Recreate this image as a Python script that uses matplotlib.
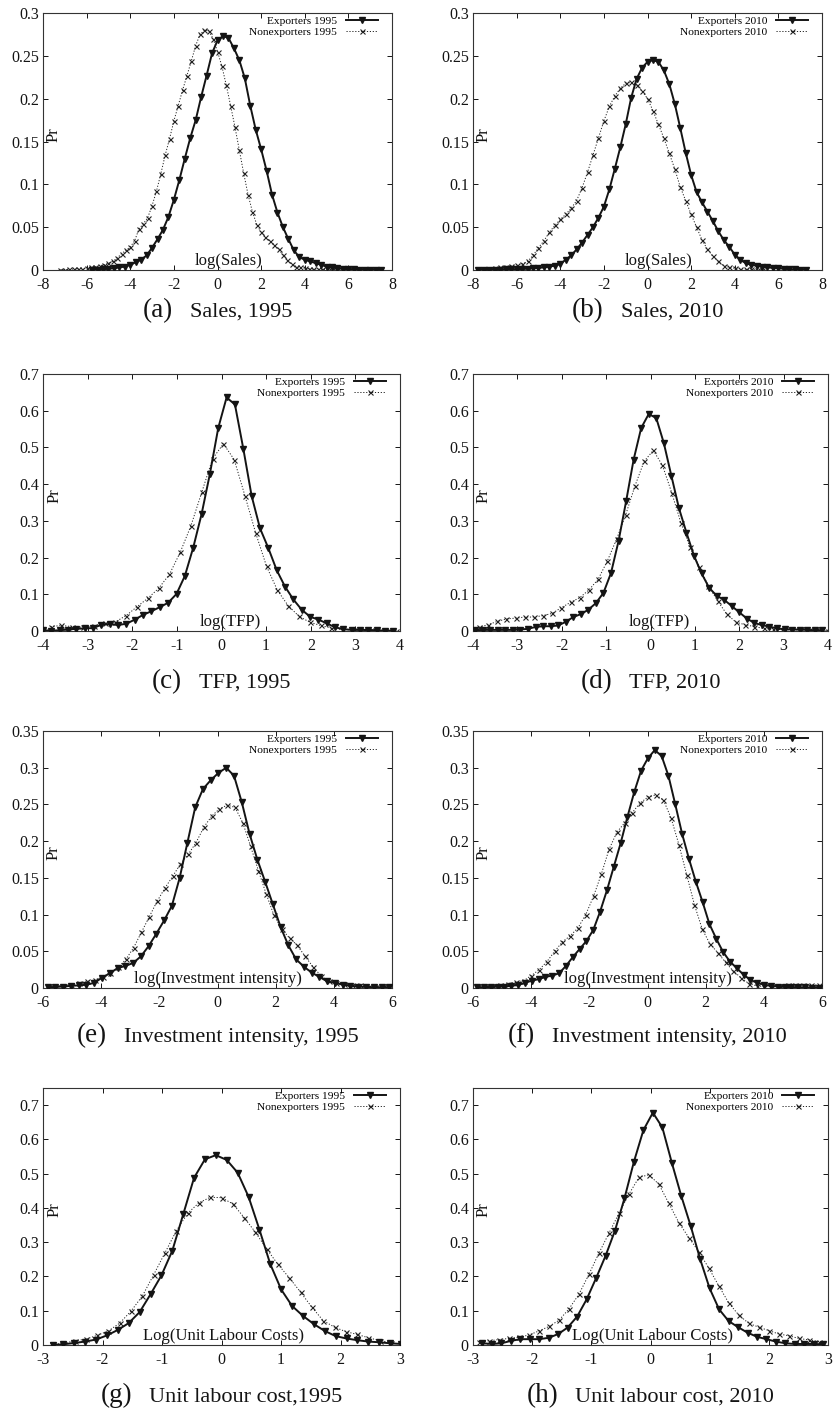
import numpy as np
import matplotlib
matplotlib.use("Agg")
import matplotlib.pyplot as plt

plt.rcParams["font.family"] = ["Liberation Serif", "DejaVu Serif"]
plt.rcParams["axes.unicode_minus"] = False

W, H = 836, 1411

# ---- data: kernel densities (start, step, values) ----
sales95_exp_grid = (-5.75, 0.25)
sales95_exp = [0.0, 0.0005, 0.001, 0.0015, 0.002, 0.003, 0.004, 0.006, 0.009, 0.012,
               0.017, 0.026, 0.036, 0.047, 0.062, 0.082, 0.105, 0.130, 0.154, 0.175,
               0.202, 0.227, 0.253, 0.268, 0.273, 0.271, 0.259, 0.245, 0.224, 0.192,
               0.164, 0.141, 0.116, 0.088, 0.067, 0.050, 0.036, 0.023, 0.015, 0.012,
               0.010, 0.008, 0.006, 0.004, 0.003, 0.002, 0.0015, 0.001, 0.0008, 0.0005,
               0.0003, 0.0002, 0.0001, 0.0]
sales95_non_grid = (-7.2, 0.2)
sales95_non = [0.0005, 0.0005, 0.0007, 0.001, 0.0012, 0.0015, 0.002, 0.003, 0.004, 0.005,
               0.006, 0.008, 0.010, 0.014, 0.019, 0.023, 0.027, 0.034, 0.048, 0.054,
               0.061, 0.075, 0.092, 0.112, 0.134, 0.153, 0.174, 0.192, 0.210, 0.227,
               0.244, 0.262, 0.275, 0.280, 0.279, 0.270, 0.255, 0.238, 0.216, 0.192,
               0.167, 0.140, 0.113, 0.088, 0.068, 0.053, 0.044, 0.038, 0.034, 0.029,
               0.024, 0.018, 0.012, 0.007, 0.004, 0.003, 0.002, 0.0015, 0.001, 0.001,
               0.0008, 0.0006, 0.0005, 0.0004, 0.0003, 0.0002, 0.0002, 0.0001, 0.0001]

sales10_exp_grid = (-7.75, 0.25)
sales10_exp = [0.0, 0.0, 0.0002, 0.0003, 0.0005, 0.0006, 0.0008, 0.001, 0.0012, 0.0015,
               0.002, 0.0025, 0.003, 0.004, 0.005, 0.007, 0.012, 0.017, 0.024, 0.032,
               0.041, 0.050, 0.061, 0.074, 0.094, 0.118, 0.143, 0.170, 0.201, 0.223,
               0.236, 0.243, 0.245, 0.243, 0.233, 0.217, 0.194, 0.166, 0.137, 0.111,
               0.091, 0.079, 0.068, 0.057, 0.045, 0.035, 0.027, 0.018, 0.012, 0.008,
               0.006, 0.005, 0.004, 0.003, 0.0025, 0.002, 0.0015, 0.001, 0.0007, 0.0004,
               0.0002]
sales10_non_grid = (-7.75, 0.25)
sales10_non = [0.0005, 0.001, 0.0015, 0.002, 0.003, 0.004, 0.005, 0.006, 0.007, 0.010,
               0.017, 0.026, 0.034, 0.044, 0.052, 0.059, 0.065, 0.072, 0.081, 0.096,
               0.114, 0.134, 0.154, 0.174, 0.191, 0.203, 0.212, 0.218, 0.219, 0.216,
               0.209, 0.200, 0.186, 0.170, 0.154, 0.136, 0.118, 0.097, 0.081, 0.065,
               0.050, 0.035, 0.024, 0.016, 0.010, 0.005, 0.003, 0.002, 0.0015, 0.001,
               0.0008, 0.0005, 0.0003]

tfp95_exp_grid = (-4.0, 0.187)
tfp95_exp = [0.002, 0.001, 0.002, 0.004, 0.006, 0.007, 0.008, 0.017, 0.019, 0.016,
             0.020, 0.031, 0.044, 0.054, 0.065, 0.077, 0.101, 0.150, 0.227, 0.318,
             0.428, 0.553, 0.636, 0.617, 0.497, 0.368, 0.280, 0.226, 0.166, 0.121,
             0.086, 0.058, 0.039, 0.031, 0.021, 0.010, 0.005, 0.003, 0.003, 0.003,
             0.002, 0.001, 0.001]
tfp95_non_grid = (-3.83, 0.242)
tfp95_non = [0.012, 0.015, 0.012, 0.010, 0.014, 0.021, 0.025, 0.042, 0.066, 0.089,
             0.116, 0.154, 0.214, 0.287, 0.378, 0.469, 0.510, 0.467, 0.368, 0.266,
             0.176, 0.111, 0.069, 0.040, 0.024, 0.015, 0.008, 0.004, 0.003, 0.002,
             0.002, 0.001, 0.001]

tfp10_exp_grid = (-3.95, 0.17)
tfp10_exp = [0.002, 0.003, 0.003, 0.003, 0.003, 0.003, 0.004, 0.006, 0.011, 0.013,
             0.013, 0.015, 0.025, 0.038, 0.046, 0.058, 0.076, 0.104, 0.158, 0.245,
             0.353, 0.467, 0.553, 0.591, 0.580, 0.512, 0.423, 0.335, 0.268, 0.205,
             0.157, 0.118, 0.096, 0.085, 0.068, 0.051, 0.034, 0.022, 0.016, 0.012,
             0.007, 0.005, 0.004, 0.004, 0.003, 0.002, 0.002]
tfp10_non_grid = (-3.87, 0.207)
tfp10_non = [0.010, 0.017, 0.026, 0.033, 0.035, 0.038, 0.038, 0.042, 0.048, 0.064,
             0.078, 0.091, 0.112, 0.141, 0.191, 0.250, 0.317, 0.395, 0.462, 0.492,
             0.451, 0.377, 0.295, 0.228, 0.175, 0.123, 0.082, 0.046, 0.024, 0.017,
             0.012, 0.007, 0.005, 0.004, 0.003, 0.003, 0.002, 0.002, 0.001]

inv95_exp_grid = (-5.84, 0.267)
inv95_exp = [0.001, 0.0015, 0.002, 0.003, 0.0035, 0.0045, 0.007, 0.014, 0.020, 0.027,
             0.030, 0.034, 0.043, 0.057, 0.074, 0.092, 0.112, 0.150, 0.198, 0.246,
             0.271, 0.283, 0.293, 0.300, 0.289, 0.253, 0.210, 0.175, 0.145, 0.114,
             0.083, 0.058, 0.039, 0.029, 0.021, 0.015, 0.009, 0.007, 0.0045, 0.003,
             0.002, 0.0015, 0.001, 0.001, 0.001]
inv95_non_grid = (-5.83, 0.268)
inv95_non = [0.001, 0.002, 0.003, 0.0045, 0.007, 0.009, 0.011, 0.015, 0.021, 0.028,
             0.039, 0.055, 0.076, 0.097, 0.118, 0.136, 0.152, 0.169, 0.182, 0.198,
             0.219, 0.234, 0.244, 0.249, 0.246, 0.225, 0.193, 0.160, 0.128, 0.099,
             0.080, 0.068, 0.058, 0.043, 0.029, 0.017, 0.009, 0.007, 0.0055, 0.0045,
             0.0036, 0.002, 0.0015, 0.001, 0.0005]

inv10_exp_grid = (-5.86, 0.235)
inv10_exp = [0.001, 0.001, 0.0015, 0.002, 0.002, 0.003, 0.004, 0.007, 0.010, 0.012,
             0.015, 0.017, 0.020, 0.030, 0.042, 0.053, 0.064, 0.079, 0.104, 0.133,
             0.165, 0.197, 0.233, 0.267, 0.296, 0.313, 0.324, 0.316, 0.289, 0.250,
             0.210, 0.176, 0.145, 0.117, 0.087, 0.067, 0.049, 0.036, 0.027, 0.018,
             0.011, 0.007, 0.0045, 0.003, 0.002, 0.0015, 0.001, 0.001, 0.0008, 0.0005,
             0.0005]
inv10_non_grid = (-5.86, 0.267)
inv10_non = [0.001, 0.002, 0.003, 0.0045, 0.006, 0.008, 0.010, 0.017, 0.025, 0.036,
             0.050, 0.063, 0.071, 0.082, 0.100, 0.125, 0.155, 0.189, 0.212, 0.225,
             0.239, 0.252, 0.260, 0.263, 0.256, 0.231, 0.195, 0.154, 0.113, 0.080,
             0.060, 0.048, 0.035, 0.023, 0.014, 0.006, 0.003, 0.002, 0.002, 0.003,
             0.0045, 0.0045, 0.0045, 0.0045, 0.004]

ulc95_exp_grid = (-2.84, 0.183)
ulc95_exp = [0.000, 0.002, 0.006, 0.010, 0.016, 0.028, 0.044, 0.064, 0.096, 0.148,
             0.203, 0.275, 0.381, 0.488, 0.542, 0.554, 0.540, 0.503, 0.433, 0.337,
             0.236, 0.162, 0.114, 0.085, 0.061, 0.041, 0.026, 0.019, 0.014, 0.010,
             0.008, 0.005, 0.003]
ulc95_non_grid = (-2.85, 0.19)
ulc95_non = [0.002, 0.005, 0.012, 0.017, 0.028, 0.041, 0.064, 0.099, 0.143, 0.205,
             0.269, 0.333, 0.384, 0.415, 0.431, 0.430, 0.412, 0.372, 0.329, 0.280,
             0.235, 0.196, 0.154, 0.110, 0.071, 0.052, 0.039, 0.031, 0.021, 0.013,
             0.007]

ulc10_exp_grid = (-2.84, 0.16)
ulc10_exp = [0.005, 0.003, 0.005, 0.012, 0.017, 0.017, 0.017, 0.021, 0.032, 0.051,
             0.083, 0.133, 0.195, 0.260, 0.334, 0.428, 0.535, 0.627, 0.678, 0.635,
             0.532, 0.435, 0.347, 0.250, 0.165, 0.104, 0.070, 0.052, 0.036, 0.024,
             0.017, 0.010, 0.005, 0.003, 0.003, 0.003, 0.002]
ulc10_non_grid = (-2.90, 0.169)
ulc10_non = [0.010, 0.012, 0.016, 0.019, 0.023, 0.029, 0.041, 0.054, 0.072, 0.105,
             0.148, 0.206, 0.268, 0.326, 0.384, 0.440, 0.489, 0.497, 0.469, 0.413,
             0.357, 0.313, 0.272, 0.224, 0.172, 0.122, 0.087, 0.063, 0.052, 0.042,
             0.032, 0.027, 0.019, 0.015, 0.010]

letters = ["a", "b", "c", "d", "e", "f", "g", "h"]
captions = ["Sales, 1995", "Sales, 2010", "TFP, 1995", "TFP, 2010",
            "Investment intensity, 1995", "Investment intensity, 2010",
            "Unit labour cost,1995", "Unit labour cost, 2010"]
xlabels = ["log(Sales)", "log(TFP)", "log(Investment intensity)", "Log(Unit Labour Costs)"]
years = ["1995", "2010"]
x_ticks = [np.arange(-8, 9, 2), np.arange(-4, 5, 1), np.arange(-6, 7, 2), np.arange(-3, 4, 1)]
y_ticks = [np.arange(0, 0.31, 0.05), np.arange(0, 0.71, 0.1),
           np.arange(0, 0.36, 0.05), np.arange(0, 0.71, 0.1)]
y_tops = [0.3, 0.7, 0.35, 0.75]

series = [
    (sales95_exp_grid, sales95_exp, sales95_non_grid, sales95_non),
    (sales10_exp_grid, sales10_exp, sales10_non_grid, sales10_non),
    (tfp95_exp_grid, tfp95_exp, tfp95_non_grid, tfp95_non),
    (tfp10_exp_grid, tfp10_exp, tfp10_non_grid, tfp10_non),
    (inv95_exp_grid, inv95_exp, inv95_non_grid, inv95_non),
    (inv10_exp_grid, inv10_exp, inv10_non_grid, inv10_non),
    (ulc95_exp_grid, ulc95_exp, ulc95_non_grid, ulc95_non),
    (ulc10_exp_grid, ulc10_exp, ulc10_non_grid, ulc10_non),
]

# ---- layout in pixels: (left, top, right, bottom) ----
boxes = [(43, 13, 392, 270), (473, 13, 822, 270),
         (43, 374, 400, 631), (473, 374, 828, 631),
         (43, 731, 392, 988), (473, 731, 822, 988),
         (43, 1088, 400, 1345), (473, 1088, 828, 1345)]
caption_base = [317, 688, 1042, 1402]
xlabel_pos = [0.533, 0.524, 0.5, 0.505]
INK = "#141414"


def grid_x(grid, n):
    start, step = grid
    return start + step * np.arange(n)


fig = plt.figure(figsize=(W / 100, H / 100), dpi=100)
renderer = fig.canvas.get_renderer()

for i, (l, t, r, b) in enumerate(boxes):
    row, col = divmod(i, 2)
    ax = fig.add_axes([l / W, 1 - b / H, (r - l) / W, (b - t) / H])
    eg, ey, ng, ny = series[i]

    ax.plot(grid_x(eg, len(ey)), ey, color=INK, lw=1.4, marker="v", ms=4.2,
            mfc=INK, mec=INK, label=f"Exporters {years[col]}", zorder=3)
    ax.plot(grid_x(ng, len(ny)), ny, color="#222222", lw=0.7, ls=(0, (1.2, 1.8)),
            marker="x", ms=3.6, mew=0.8, label=f"Nonexporters {years[col]}", zorder=2)

    xt = x_ticks[row]
    yt = y_ticks[row]
    ax.set_xlim(xt[0], xt[-1])
    ax.set_ylim(0, y_tops[row])
    ax.set_xticks(xt)
    ax.set_xticklabels([f"{v:g}" for v in xt])
    ax.set_yticks(yt)
    ax.set_yticklabels([f"{round(v, 2):g}" for v in yt])
    ax.tick_params(direction="in", top=True, right=True, length=3.5, width=0.7,
                   labelsize=11.5, pad=5, colors=INK)
    ax.tick_params(axis="y", pad=3)
    for sp in ax.spines.values():
        sp.set_linewidth(0.8)
        sp.set_color("#333333")

    ax.text(xlabel_pos[row], 0.004, xlabels[row], transform=ax.transAxes,
            ha="center", va="bottom", fontsize=12, color=INK)
    ax.text(0.031, 0.525, "Pr", transform=ax.transAxes, rotation=90,
            ha="center", va="center", fontsize=12, color=INK)

    w_px = r - l
    h_px = b - t
    ax.legend(loc="upper right", bbox_to_anchor=(1 - 14 / w_px, 1 - 3.5 / h_px),
              frameon=False, markerfirst=False, fontsize=8.2, handlelength=2.8,
              handletextpad=0.8, labelspacing=0.05, borderpad=0, borderaxespad=0,
              numpoints=1)

    # caption: "(x)" in a larger size, then the description
    cx = (l + r) / 2
    yb = 1 - caption_base[row] / H
    t1 = fig.text(0, yb, f"({letters[i]})", fontsize=19.5, va="baseline", ha="left", color=INK)
    t2 = fig.text(0, yb, captions[i], fontsize=16, va="baseline", ha="left", color=INK)
    w1 = t1.get_window_extent(renderer).width
    w2 = t2.get_window_extent(renderer).width
    gap = 17
    x0 = cx - (w1 + gap + w2) / 2
    t1.set_x(x0 / W)
    t2.set_x((x0 + w1 + gap) / W)

fig.savefig("out.png", dpi=100)
